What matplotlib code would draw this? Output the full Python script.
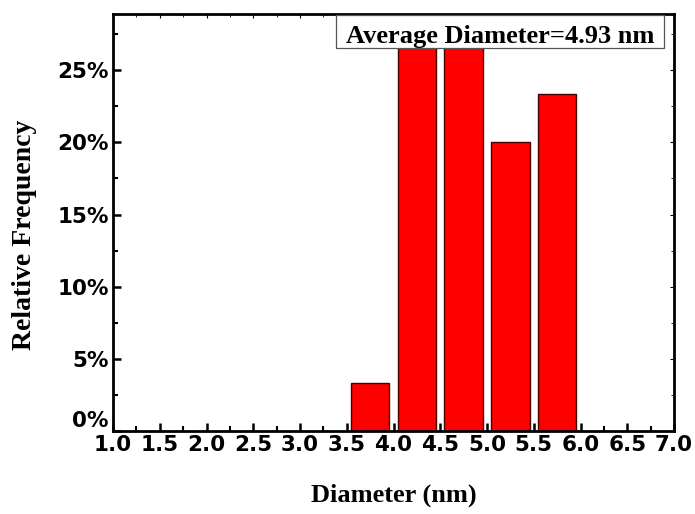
import numpy as np
import matplotlib.pyplot as plt
from matplotlib.patches import Rectangle
from matplotlib.ticker import MultipleLocator, FixedLocator, FuncFormatter

plt.rcParams["font.family"] = "DejaVu Sans"
plt.rcParams["font.weight"] = "bold"

# histogram of particle diameters (bin centres, relative frequency in %)
bin_centres = [3.75, 4.25, 4.75, 5.25, 5.75]
rel_freq = [3.33, 26.67, 26.67, 20.0, 23.33]
y_ticks = [0, 5, 10, 15, 20, 25]
avg_label = "Average Diameter=4.93 nm"

fig = plt.figure(figsize=(6.95, 5.14), dpi=100)
ax = fig.add_axes([113 / 695, 1 - 431 / 514, (674 - 113) / 695, (431 - 14) / 514])

ax.bar(bin_centres, rel_freq, width=0.41, color='#ff0000',
       edgecolor='#4a0000', linewidth=1.0, zorder=2)

ax.set_xlim(1.0, 7.0)
ax.set_ylim(0, 28.9)
ax.xaxis.set_major_locator(MultipleLocator(0.5))
ax.xaxis.set_minor_locator(MultipleLocator(0.25))
ax.yaxis.set_major_locator(FixedLocator(y_ticks))
ax.yaxis.set_minor_locator(MultipleLocator(2.5))
ax.xaxis.set_major_formatter(FuncFormatter(lambda v, p: f"{v:.1f}"))
ax.yaxis.set_major_formatter(FuncFormatter(lambda v, p: f"{v:.0f}%"))

for s in ax.spines.values():
    s.set_linewidth(2.0)
ax.tick_params(which='major', direction='in', length=6, width=1.8,
               labelsize=15.5, pad=3)
ax.tick_params(which='minor', direction='in', length=3.5, width=1.5)
ax.tick_params(which='both', top=True, right=True)
for t in ax.xaxis.get_majorticklines()[1::2] + ax.yaxis.get_majorticklines()[1::2]:
    t.set_markersize(3)
    t.set_markeredgewidth(0.8)
for t in ax.xaxis.get_minorticklines()[1::2] + ax.yaxis.get_minorticklines()[1::2]:
    t.set_markersize(2)
    t.set_markeredgewidth(0.6)
# lift the 0% label off the x axis as in the original
ax.yaxis.get_major_ticks()[0].label1.set_verticalalignment('bottom')

ax.set_xlabel("Diameter (nm)", family="Liberation Serif", fontsize=19,
              fontweight='bold')
ax.xaxis.set_label_coords(0.5, -0.126)
ax.set_ylabel("Relative Frequency", family="Liberation Serif", fontsize=20,
              fontweight='bold')
ax.yaxis.set_label_coords(-0.135, 0.47)

ax.add_patch(Rectangle((0.3975, 0.919), 0.5845, 0.078, transform=ax.transAxes,
                       facecolor='white', edgecolor='#555555', linewidth=0.9,
                       zorder=4))
ax.text(0.69, 0.930, avg_label, transform=ax.transAxes, ha='center',
        va='baseline', family="Liberation Serif", fontsize=19,
        fontweight='bold', zorder=5)

fig.savefig("out.png", dpi=100)
